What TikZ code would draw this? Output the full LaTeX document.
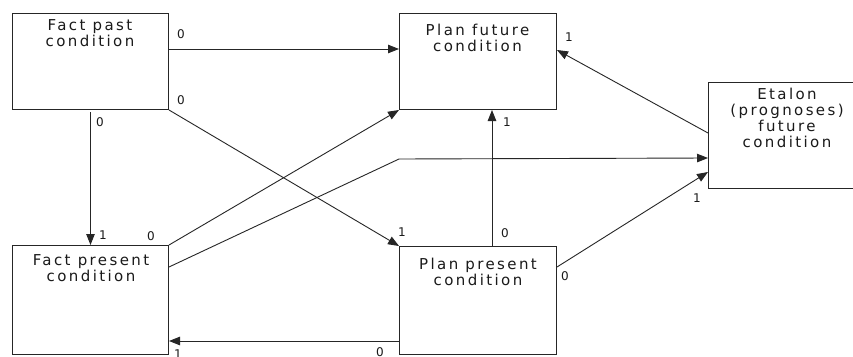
\documentclass[tikz,border=0pt]{standalone}
\usepackage{fontspec}
\setmainfont{DejaVu Sans}
\newfontfamily\boxfont[LetterSpace=16]{DejaVu Sans}
\usetikzlibrary{arrows.meta,calc}
\definecolor{linec}{HTML}{262626}
\definecolor{textc}{HTML}{1A1A1A}
\begin{document}
\begin{tikzpicture}[x=1pt,y=-1pt,
  box/.style={draw=linec, line width=1pt, inner sep=0pt, anchor=north west},
  boxtext/.style={anchor=base, inner sep=0pt, text=textc,
    font=\boxfont\fontsize{15}{16}\selectfont},
  lab/.style={inner sep=0pt, text=textc, font=\fontsize{12}{14}\selectfont},
  arr/.style={draw=linec, line width=0.9pt, -{Triangle[length=11pt,width=8.5pt]}}]
\useasboundingbox (0,0) rectangle (853,356);
\clip (0,0) rectangle (853,356);
\fill[white] (0,0) rectangle (853,356);

% boxes
\node[box, minimum width=156pt, minimum height=96pt]  (fpast) at (12,13) {};
\node[box, minimum width=157pt, minimum height=96pt]  (pfut)  at (399,13) {};
\node[box, minimum width=158pt, minimum height=106pt] (etal)  at (708,82) {};
\node[box, minimum width=156pt, minimum height=109pt] (fpres) at (12,245) {};
\node[box, minimum width=157pt, minimum height=108pt] (ppres) at (399,246) {};

% box texts
\node[boxtext] (tfpast) at (90,30)
  {\begin{tabular}[t]{@{}c@{}}Fact past\\condition\end{tabular}};
\node[boxtext] (tpfut) at (477.5,35)
  {\begin{tabular}[t]{@{}c@{}}Plan future\\condition\end{tabular}};
\node[boxtext] (tetal) at (787,99)
  {\begin{tabular}[t]{@{}c@{}}Etalon\\(prognoses)\\future\\condition\end{tabular}};
\node[boxtext] (tfpres) at (91,265)
  {\begin{tabular}[t]{@{}c@{}}Fact present\\condition\end{tabular}};
\node[boxtext] (tppres) at (478,269)
  {\begin{tabular}[t]{@{}c@{}}Plan present\\condition\end{tabular}};

% connectors
\draw[arr] ($(fpast.north east)+(0,36)$) -- ($(pfut.north west)+(0,36)$);
\draw[arr] (fpast.south east) -- (ppres.north west);
\draw[arr] ($(fpast.south)+(0,2)$) -- (fpres.north);
\draw[arr] (fpres.north east) -- (pfut.south west);
\draw[arr] ($(fpres.north east)+(0,22)$) -- ($(pfut.south west)+(0,49)$) -- ($(etal.north west)+(0,76)$);
\draw[arr] ($(ppres.north west)+(93,0)$) -- ($(pfut.south west)+(93,0)$);
\draw[arr] ($(ppres.north east)+(0,21)$) -- ($(etal.north west)+(0,90)$);
\draw[arr] ($(etal.north west)+(0,51)$) -- ($(pfut.north east)+(0,37)$);
\draw[arr] ($(ppres.north west)+(0,95)$) -- ($(fpres.north east)+(0,96)$);

% labels
\node[lab] (l1)  at (181,34.5) {0};
\node[lab] (l2)  at (181,100) {0};
\node[lab] (l3)  at (100,122) {0};
\node[lab] (l4)  at (103,235) {1};
\node[lab] (l5)  at (151,236) {0};
\node[lab] (l6)  at (569,37) {1};
\node[lab] (l7)  at (507,122) {1};
\node[lab] (l8)  at (402,232) {1};
\node[lab] (l9)  at (505,233) {0};
\node[lab] (l10) at (565,276) {0};
\node[lab] (l11) at (697,198) {1};
\node[lab] (l12) at (178,354) {1};
\node[lab] (l13) at (380,352) {0};
\end{tikzpicture}
\end{document}
